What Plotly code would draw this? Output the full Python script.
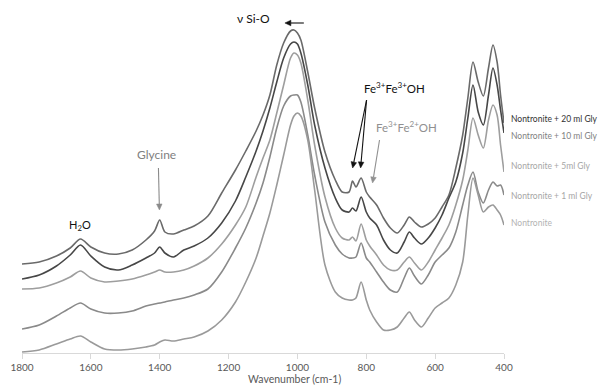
import math
import plotly.graph_objects as go

wavenumber = [1800, 1750, 1700, 1660, 1630, 1600, 1560, 1520, 1480, 1440, 1415, 1400, 1385, 1360,
              1330, 1300, 1260, 1220, 1180, 1150, 1120, 1100, 1080, 1060, 1040, 1020, 1010, 1000,
              990, 970, 950, 920, 890, 870, 850, 840, 830, 815, 800, 790, 770, 750, 730, 710, 690,
              675, 660, 640, 620, 600, 580, 560, 540, 520, 505, 490, 475, 460, 445, 432, 420, 410, 400]

gly20 = [0.89, 0.91, 0.97, 1.05, 1.14, 1.06, 1.00, 0.99, 1.03, 1.13, 1.22, 1.33, 1.21, 1.19,
         1.23, 1.27, 1.37, 1.60, 1.83, 2.02, 2.22, 2.38, 2.58, 2.88, 3.10, 3.22, 3.23, 3.20,
         3.13, 2.81, 2.45, 2.01, 1.73, 1.61, 1.61, 1.72, 1.66, 1.75, 1.61, 1.56, 1.48, 1.35, 1.25, 1.20, 1.28,
         1.36, 1.31, 1.26, 1.29, 1.35, 1.46, 1.58, 1.85, 2.18, 2.55, 2.91, 2.71, 2.57, 2.85, 3.08, 2.91, 2.58, 2.30]

gly10 = [0.74, 0.78, 0.87, 0.98, 1.08, 0.97, 0.86, 0.83, 0.88, 0.95, 1.00, 1.06, 1.00, 0.96,
         1.03, 1.07, 1.15, 1.30, 1.52, 1.76, 2.02, 2.22, 2.45, 2.71, 2.95, 3.09, 3.11, 3.09,
         3.00, 2.68, 2.28, 1.85, 1.55, 1.43, 1.41, 1.45, 1.42, 1.56, 1.41, 1.35, 1.28, 1.13, 1.03, 1.00, 1.11,
         1.21, 1.15, 1.09, 1.15, 1.25, 1.38, 1.55, 1.71, 2.00, 2.35, 2.68, 2.41, 2.28, 2.58, 2.85, 2.68, 2.43, 2.20]

gly5 = [0.64, 0.65, 0.70, 0.76, 0.82, 0.75, 0.71, 0.72, 0.74, 0.78, 0.81, 0.83, 0.81, 0.81,
        0.83, 0.87, 0.95, 1.09, 1.28, 1.46, 1.76, 1.95, 2.13, 2.40, 2.68, 2.95, 3.00, 2.98,
        2.90, 2.53, 2.08, 1.56, 1.25, 1.15, 1.13, 1.16, 1.12, 1.29, 1.13, 1.07, 0.98, 0.88, 0.83, 0.83, 0.91,
        0.96, 0.90, 0.83, 0.91, 1.03, 1.15, 1.28, 1.48, 1.73, 2.03, 2.35, 2.18, 2.05, 2.33, 2.48, 2.38, 2.08, 1.81]

gly1 = [0.24, 0.28, 0.37, 0.45, 0.50, 0.44, 0.40, 0.40, 0.42, 0.47, 0.49, 0.50, 0.51, 0.53,
        0.55, 0.58, 0.64, 0.81, 1.05, 1.25, 1.50, 1.70, 1.96, 2.25, 2.47, 2.57, 2.58, 2.58,
        2.51, 2.18, 1.78, 1.31, 1.08, 0.99, 0.95, 0.95, 0.96, 1.10, 0.95, 0.91, 0.81, 0.71, 0.63, 0.61, 0.75,
        0.85, 0.77, 0.69, 0.78, 0.91, 0.98, 1.05, 1.21, 1.48, 1.68, 1.81, 1.61, 1.50, 1.63, 1.71, 1.67, 1.68, 1.58]

nontronite = [0.01, 0.03, 0.09, 0.14, 0.17, 0.11, 0.04, 0.03, 0.04, 0.06, 0.08, 0.11, 0.13, 0.12,
              0.14, 0.16, 0.22, 0.33, 0.51, 0.71, 0.95, 1.17, 1.40, 1.68, 1.98, 2.28, 2.37, 2.40,
              2.37, 2.13, 1.63, 0.88, 0.61, 0.55, 0.53, 0.53, 0.55, 0.71, 0.53, 0.43, 0.31, 0.23, 0.23, 0.26, 0.35,
              0.41, 0.33, 0.26, 0.35, 0.45, 0.50, 0.55, 0.68, 0.91, 1.38, 1.75, 1.58, 1.41, 1.46, 1.48, 1.43, 1.38, 1.28]

series_names = ["Nontronite + 20 ml Gly", "Nontronite + 10 ml Gly", "Nontronite + 5ml Gly",
                "Nontronite + 1 ml Gly", "Nontronite"]
series_values = [gly20, gly10, gly5, gly1, nontronite]
line_colors = ["#6a6a6a", "#474747", "#9e9e9e", "#8a8a8a", "#9a9a9a"]
label_colors = ["#333333", "#7f7f7f", "#a6a6a6", "#a6a6a6", "#b3b3b3"]
label_y_px = [119, 136, 166, 196, 223]

x_ticks = [1800, 1600, 1400, 1200, 1000, 800, 600, 400]

W, H = 598, 387
ML, MR, MT, MB = 20, 94, 10, 34
PW, PH = W - ML - MR, H - MT - MB


def px(x):
    return (x - ML) / PW


def py(y):
    return (H - MB - y) / PH


fig = go.Figure()
for name, vals, col in zip(series_names, series_values, line_colors):
    fig.add_trace(go.Scatter(x=wavenumber, y=vals, mode="lines", name=name,
                             line=dict(color=col, width=1.6, shape="spline", smoothing=0.8),
                             hoverinfo="skip"))

font = "Lato, Open Sans, sans-serif"
ann = []
for name, col, yy in zip(series_names, label_colors, label_y_px):
    ann.append(dict(x=px(509), y=py(yy), xref="paper", yref="paper", text=name, showarrow=False,
                    xanchor="left", yanchor="middle", font=dict(size=8.5, color=col, family=font)))


def text(x, y, s, size, color):
    ann.append(dict(x=px(x), y=py(y), xref="paper", yref="paper", text=s, showarrow=False,
                    xanchor="center", yanchor="middle", font=dict(size=size, color=color, family=font)))


text(252, 18, "ν Si-O", 12, "#111111")
text(155, 155, "Glycine", 12, "#808080")
text(78, 225, "H<sub>2</sub>O", 11, "#111111")
text(394, 87, "Fe<sup>3+</sup>Fe<sup>3+</sup>OH", 11.5, "#111111")
text(406, 127, "Fe<sup>3+</sup>Fe<sup>2+</sup>OH", 11.5, "#909090")
text(294, 379, "Wavenumber (cm-1)", 10.5, "#595959")

shapes = []


def arrow(x0, y0, x1, y1, color, width=1.1, hl=6.0, hw=2.8):
    dx, dy = x1 - x0, y1 - y0
    L = math.hypot(dx, dy)
    ux, uy = dx / L, dy / L
    bx, by = x1 - ux * hl, y1 - uy * hl
    nx, ny = -uy, ux
    shapes.append(dict(type="line", xref="paper", yref="paper",
                       x0=px(x0), y0=py(y0), x1=px(bx), y1=py(by),
                       line=dict(color=color, width=width)))
    pts = [(x1, y1), (bx + nx * hw, by + ny * hw), (bx - nx * hw, by - ny * hw)]
    path = "M " + " L ".join(f"{px(a):.5f} {py(b):.5f}" for a, b in pts) + " Z"
    shapes.append(dict(type="path", xref="paper", yref="paper", path=path,
                       fillcolor=color, line=dict(color=color, width=0.5)))


arrow(303, 23, 284, 23, "#111111")
arrow(157, 168, 158, 210, "#8a8a8a")
arrow(366, 100, 352, 168, "#111111")
arrow(366, 100, 360, 168, "#111111")
arrow(379, 140, 372, 183, "#909090")

fig.update_layout(
    width=W, height=H,
    margin=dict(l=ML, r=MR, t=MT, b=MB, pad=0),
    paper_bgcolor="white", plot_bgcolor="white",
    showlegend=False,
    annotations=ann,
    shapes=shapes,
    font=dict(family=font),
    xaxis=dict(range=[1800, 400], tickvals=x_ticks, ticktext=[str(t) for t in x_ticks],
               showgrid=False, zeroline=False, showline=True, linecolor="#d9d9d9", linewidth=1,
               ticks="outside", ticklen=5, tickcolor="#d9d9d9",
               tickfont=dict(size=10, color="#595959", family=font)),
    yaxis=dict(range=[0, PH / 100], visible=False, showgrid=False, zeroline=False),
)

fig.write_html("out.html", config={"displayModeBar": False},
               post_script="document.body.style.margin='0px';")
